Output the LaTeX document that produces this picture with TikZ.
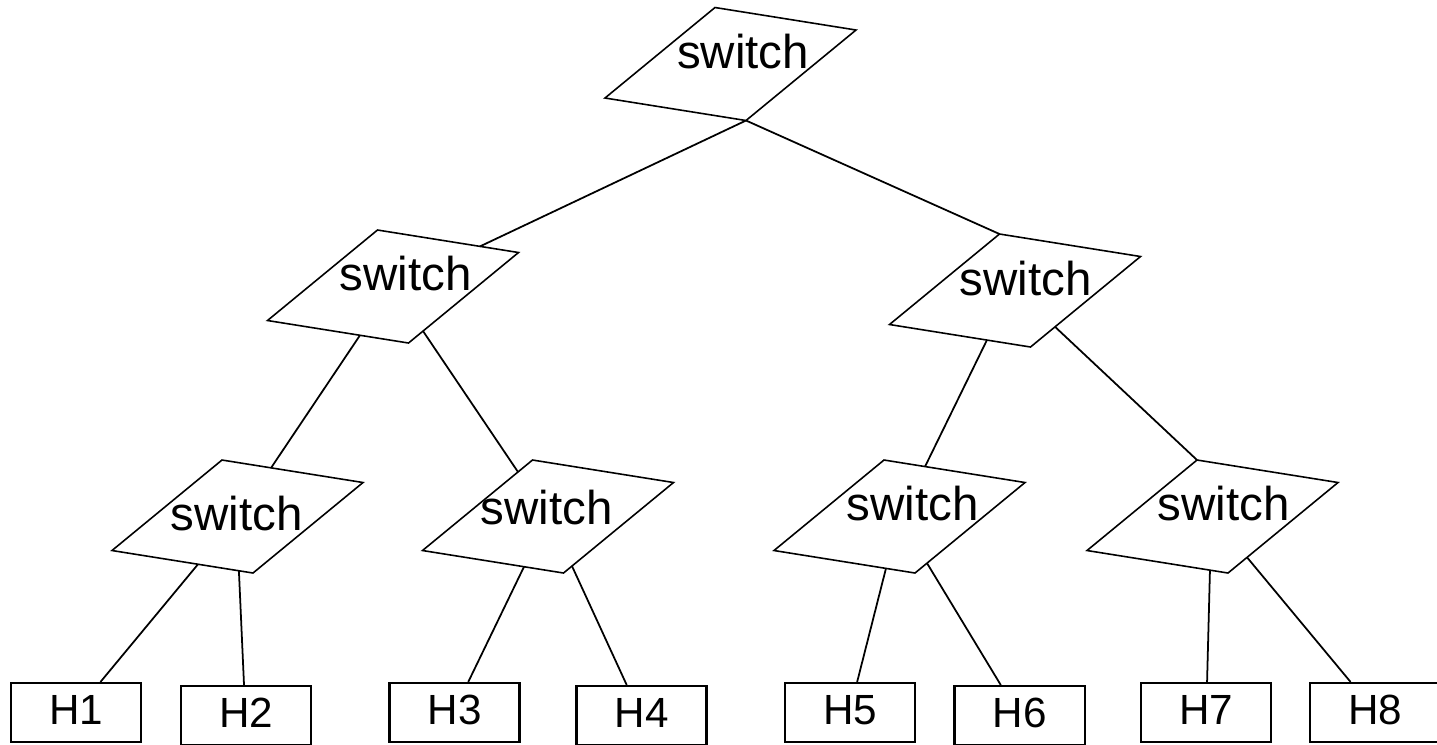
\documentclass[tikz,border=0pt]{standalone}
\usepackage{fontspec}
\setmainfont{Liberation Sans}
\usetikzlibrary{calc}
\newcommand\swnode[5]{%
  \coordinate (#1) at (#2,#3);
  \coordinate (#1-t) at ($(#1)+(-15.5,-56.5)$);
  \coordinate (#1-r) at ($(#1)+(125.5,-34)$);
  \coordinate (#1-b) at ($(#1)+(15.5,56.5)$);
  \coordinate (#1-l) at ($(#1)+(-125.5,34)$);
  \path[swshape] (#1-t) -- (#1-r) -- (#1-b) -- (#1-l) -- cycle;
  \node[swlabel] (#1-lab) at ($(#1)+(#4,#5)$) {switch};
}
\begin{document}
\begin{tikzpicture}[x=0.01cm,y=-0.01cm,
  swshape/.style={draw=black,line width=0.45pt,fill=white},
  swlabel/.style={anchor=base,inner sep=0pt,font=\fontsize{13.5}{16}\selectfont},
  host/.style={draw=black,line width=0.6pt,minimum width=1.3cm,minimum height=0.59cm,inner sep=0pt,text height=0.23cm,text depth=0cm,font=\fontsize{12}{14}\selectfont},
  link/.style={draw=black,line width=0.5pt}]
\useasboundingbox (0,0) rectangle (1437,744);
% switches
\swnode{T}{730.5}{64}{12.5}{4}
\swnode{A}{393}{286.5}{12.5}{3.5}
\swnode{B}{1015}{290.5}{10.5}{4.5}
\swnode{C}{237.5}{516.5}{-1}{13.5}
\swnode{D}{548}{516.5}{-1.5}{7.5}
\swnode{E}{899.5}{516.5}{13}{3.5}
\swnode{F}{1212.5}{516.5}{11}{3.5}
% hosts
\node[host] (H1) at (76,712.5) {H1};
\node[host] (H2) at (246,715.5) {H2};
\node[host] (H3) at (454.5,712.5) {H3};
\node[host] (H4) at (641.5,715.5) {H4};
\node[host] (H5) at (850,712.5) {H5};
\node[host] (H6) at (1019.5,715.5) {H6};
\node[host] (H7) at (1206,712.5) {H7};
\node[host] (H8) at (1375,712.5) {H8};
% links between switches
\draw[link] (T-b) -- ($(A-t)!0.727!(A-r)$);
\draw[link] (T-b) -- (B-t);
\draw[link] ($(A-l)!0.656!(A-b)$) -- ($(C-t)!0.348!(C-r)$);
\draw[link] ($(A-b)!0.132!(A-r)$) -- ($(D-l)!0.868!(D-t)$);
\draw[link] ($(B-l)!0.691!(B-b)$) -- ($(E-t)!0.291!(E-r)$);
\draw[link] ($(B-b)!0.223!(B-r)$) -- (F-t);
% links to hosts
\draw[link] ($(C-l)!0.61!(C-b)$) -- ($(H1.north west)!0.685!(H1.north east)$);
\draw[link] ($(C-l)!0.90!(C-b)$) -- ($(H2.north west)!0.485!(H2.north east)$);
\draw[link] ($(D-l)!0.72!(D-b)$) -- ($(H3.north west)!0.604!(H3.north east)$);
\draw[link] ($(D-b)!0.077!(D-r)$) -- ($(H4.north west)!0.388!(H4.north east)$);
\draw[link] ($(E-l)!0.794!(E-b)$) -- ($(H5.north west)!0.554!(H5.north east)$);
\draw[link] ($(E-b)!0.109!(E-r)$) -- ($(H6.north west)!0.358!(H6.north east)$);
\draw[link] ($(F-l)!0.872!(F-b)$) -- ($(H7.north west)!0.508!(H7.north east)$);
\draw[link] ($(F-b)!0.173!(F-r)$) -- ($(H8.north west)!0.315!(H8.north east)$);
\end{tikzpicture}
\end{document}
